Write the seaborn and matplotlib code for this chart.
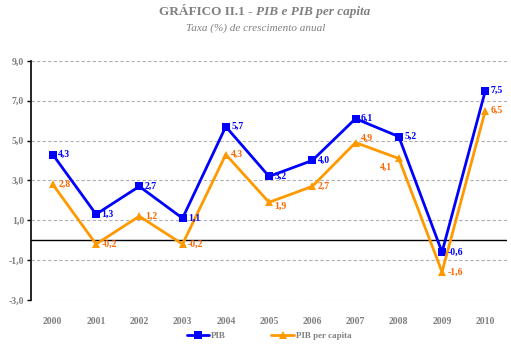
import numpy as np
import pandas as pd
import seaborn as sns
import matplotlib.pyplot as plt

years = ["2000", "2001", "2002", "2003", "2004", "2005",
         "2006", "2007", "2008", "2009", "2010"]
pib = [4.3, 1.3, 2.7, 1.1, 5.7, 3.2, 4.0, 6.1, 5.2, -0.6, 7.5]
pib_pc = [2.8, -0.2, 1.2, -0.2, 4.3, 1.9, 2.7, 4.9, 4.1, -1.6, 6.5]
series_names = ["PIB", "PIB per capita"]
y_ticks = [-3, -1, 1, 3, 5, 7, 9]

sns.set_style("white")
plt.rcParams["font.family"] = ["Liberation Serif", "DejaVu Serif"]

df = pd.DataFrame({
    "ano": years * 2,
    "pos": list(range(len(years))) * 2,
    "valor": pib + pib_pc,
    "serie": [series_names[0]] * len(years) + [series_names[1]] * len(years),
})

blue = "#0000FF"
orange = "#FF9900"
label_orange = "#FF6600"
grey = "#808080"

fig = plt.figure(figsize=(5.11, 3.52), dpi=100)
ax = fig.add_axes([0.061, 0.148, 0.931, 0.679])

sns.lineplot(data=df, x="pos", y="valor", hue="serie", style="serie",
             markers={"PIB": "s", "PIB per capita": "^"}, dashes=False,
             palette={"PIB": blue, "PIB per capita": orange},
             markersize=6, linewidth=2, markeredgewidth=0, ax=ax)

ax.set_xlim(-0.5, len(years) - 0.5)
ax.set_ylim(-3, 9)
ax.set_yticks(y_ticks)
ax.set_yticklabels([f"{v:.1f}".replace(".", ",") for v in y_ticks],
                   fontsize=7, fontweight="bold", color=grey)
ax.set_xticks(range(len(years)))
ax.set_xticklabels(years, fontsize=7, fontweight="bold", color=grey)
ax.tick_params(axis="x", length=0, pad=12)
ax.tick_params(axis="y", length=3, width=1, color="black", pad=2, left=True)
ax.set_xlabel("")
ax.set_ylabel("")

for v in y_ticks:
    ax.axhline(v, color="#B0B0B0", linestyle=(0, (3, 2)), linewidth=0.8, zorder=0)
ax.axhline(0, color="black", linewidth=1, zorder=1)
for s in ["top", "right", "bottom"]:
    ax.spines[s].set_visible(False)
ax.spines["left"].set_color("black")
ax.spines["left"].set_linewidth(1.2)

for i, v in enumerate(pib):
    ax.annotate(f"{v:.1f}".replace(".", ","), (i, v), xytext=(4, 0),
                textcoords="offset points", ha="left", va="center",
                fontsize=7, fontweight="bold", color=blue)
pc_offsets = [(4, 0), (4, 0), (4, 0), (4, 0), (4, 0), (4, -3),
              (4, 0), (4, 3), (-5, -6), (4, 0), (4, 0)]
for i, v in enumerate(pib_pc):
    dx, dy = pc_offsets[i]
    ax.annotate(f"{v:.1f}".replace(".", ","), (i, v), xytext=(dx, dy),
                textcoords="offset points", ha="left" if dx > 0 else "right",
                va="center", fontsize=7, fontweight="bold", color=label_orange)

leg = ax.legend(loc="upper center", bbox_to_anchor=(0.5, -0.1), ncol=2,
                frameon=False, fontsize=6.5, handlelength=2.5, columnspacing=5,
                handletextpad=0.2)
for t in leg.get_texts():
    t.set_color(grey)
    t.set_fontweight("bold")

fig.text(0.5, 0.965, "GRÁFICO II.1 - ", ha="right", va="center",
         fontsize=9.5, fontweight="bold", color=grey)
fig.text(0.5, 0.965, "PIB e PIB per capita", ha="left", va="center",
         fontsize=9.5, fontweight="bold", fontstyle="italic", color=grey)
fig.text(0.5, 0.92, "Taxa (%) de crescimento anual", ha="center", va="center",
         fontsize=8, fontstyle="italic", color=grey)

fig.savefig("out.png", dpi=100)
